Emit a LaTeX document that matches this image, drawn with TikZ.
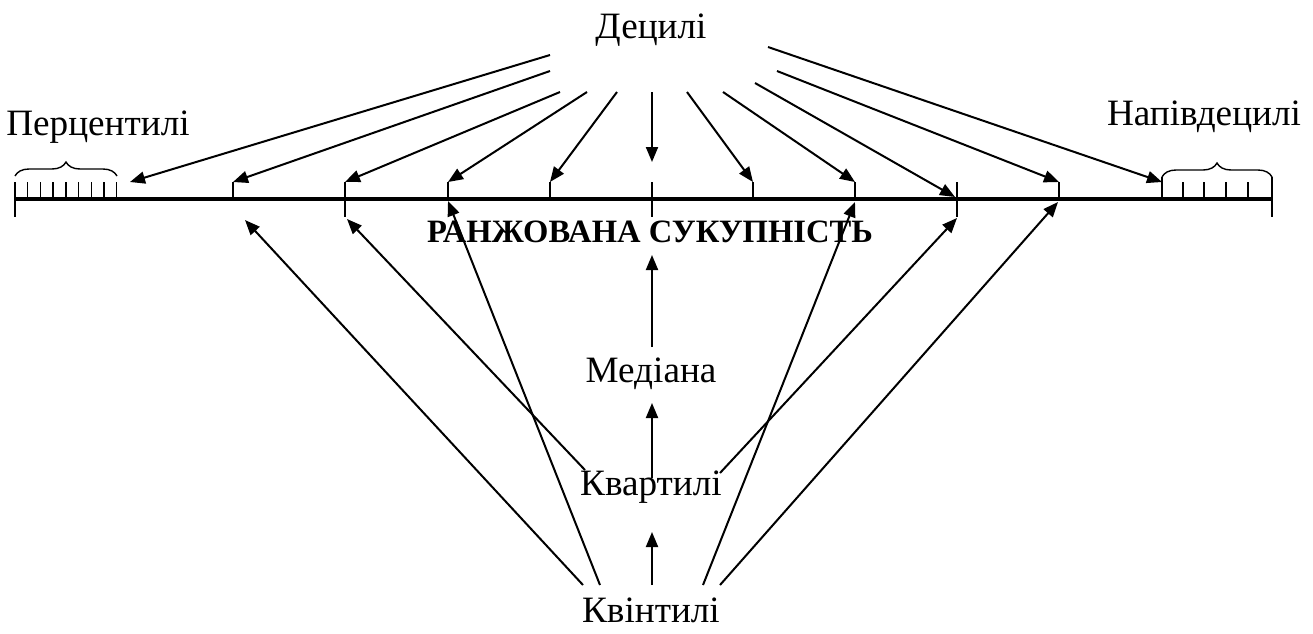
\documentclass[tikz,border=0pt]{standalone}
\usepackage{fontspec}
\setmainfont{Liberation Serif}
\usetikzlibrary{arrows.meta,decorations.pathreplacing}

\begin{document}
\begin{tikzpicture}[
  x=0.5pt, y=-0.5pt,
  lbl/.style={font=\fontsize{18.6}{20}\selectfont, inner sep=0pt, anchor=base},
  arr/.style={line width=1pt, -{Triangle[length=7.5pt,width=6pt]}},
  tickmark/.style={line width=0.7pt},
  grp/.style={line width=0.7pt, decorate, decoration={brace, amplitude=7pt}}
]
\useasboundingbox (0,0) rectangle (1313,633);

% labels
\node[lbl] (dec) at (651,38) {Децилі};
\node[lbl] (perc) at (98,135) {Перцентилі};
\node[lbl] (half) at (1204,125) {Напівдецилі};
\node[lbl, font=\fontsize{16.3}{18}\selectfont\bfseries] (rank) at (650,242) {РАНЖОВАНА СУКУПНІСТЬ};
\node[lbl] (med) at (651,382) {Медіана};
\node[lbl] (quart) at (651,495) {Квартилі};
\node[lbl] (quint) at (651,622) {Квінтилі};

% ranked line
\coordinate (lineL) at (15,199);
\coordinate (lineR) at (1272,199);
\draw[line width=2.4pt] (lineL) -- (lineR);
\draw[tickmark] (15,182) -- (15,217);
\draw[tickmark] (1272,177) -- (1272,217);

% percentiles
\foreach \k in {1,...,8}
  \draw[tickmark] (15+12.7*\k,182) -- (15+12.7*\k,199);
\draw[grp] (15,176) -- (117,176);

% half-deciles
\draw[tickmark] (1162,177) -- (1162,199);
\foreach \x in {1183,1204,1226,1248}
  \draw[tickmark] (\x,182) -- (\x,199);
\draw[grp] (1162,177) -- (1272,177);

% decile ticks
\foreach \n/\x in {1/233,3/448,4/550,6/753,7/855,9/1059}
  \draw[tickmark] (\x,182) -- (\x,199);
\foreach \n/\x in {2/345,5/652,8/957}
  \draw[tickmark] (\x,182) -- (\x,217);

% end points
\foreach \n/\x in {1/233,2/345,3/448,4/550,6/753,7/855,9/1059}
  \coordinate (m\n) at (\x,182);
\coordinate (pc) at (130,182);
\coordinate (hd) at (1162,182);
\coordinate (m5) at (652,162);
\coordinate (m8) at (955,197);
\coordinate (b2) at (347,219);
\coordinate (b8) at (957,218);
\coordinate (q1) at (245,220);
\coordinate (q2) at (448,201);
\coordinate (q3) at (855,202);
\coordinate (q4) at (1058,202);
\coordinate (mid) at (652,255);

% start points below the labels
\foreach \n/\x/\y in {1/550/55, 2/550/71, 3/560/92, 4/587/92, 5/617/92, 6/652/92,
                      7/687/92, 8/723/92, 9/755/83, 10/777/71, 11/768/47}
  \coordinate (d\n) at (\x,\y);
\foreach \n/\x in {1/583, 2/600, 3/652, 4/703, 5/720}
  \coordinate (k\n) at (\x,585);
\coordinate (r1) at (585,470);
\coordinate (r2) at (652,478);
\coordinate (r3) at (720,473);
\coordinate (e1) at (652,347);
\coordinate (e2) at (652,532);
\coordinate (e3) at (652,403);

% deciles
\draw[arr] (d1) -- (pc);
\draw[arr] (d2) -- (m1);
\draw[arr] (d3) -- (m2);
\draw[arr] (d4) -- (m3);
\draw[arr] (d5) -- (m4);
\draw[arr] (d6) -- (m5);
\draw[arr] (d7) -- (m6);
\draw[arr] (d8) -- (m7);
\draw[arr] (d9) -- (m8);
\draw[arr] (d10) -- (m9);
\draw[arr] (d11) -- (hd);

% quintiles, quartiles, median
\draw[arr] (k1) -- (q1);
\draw[arr] (k2) -- (q2);
\draw[arr] (k4) -- (q3);
\draw[arr] (k5) -- (q4);
\draw[arr] (k3) -- (e2);
\draw[arr] (r1) -- (b2);
\draw[arr] (r3) -- (b8);
\draw[arr] (r2) -- (e3);
\draw[arr] (e1) -- (mid);
\end{tikzpicture}
\end{document}
